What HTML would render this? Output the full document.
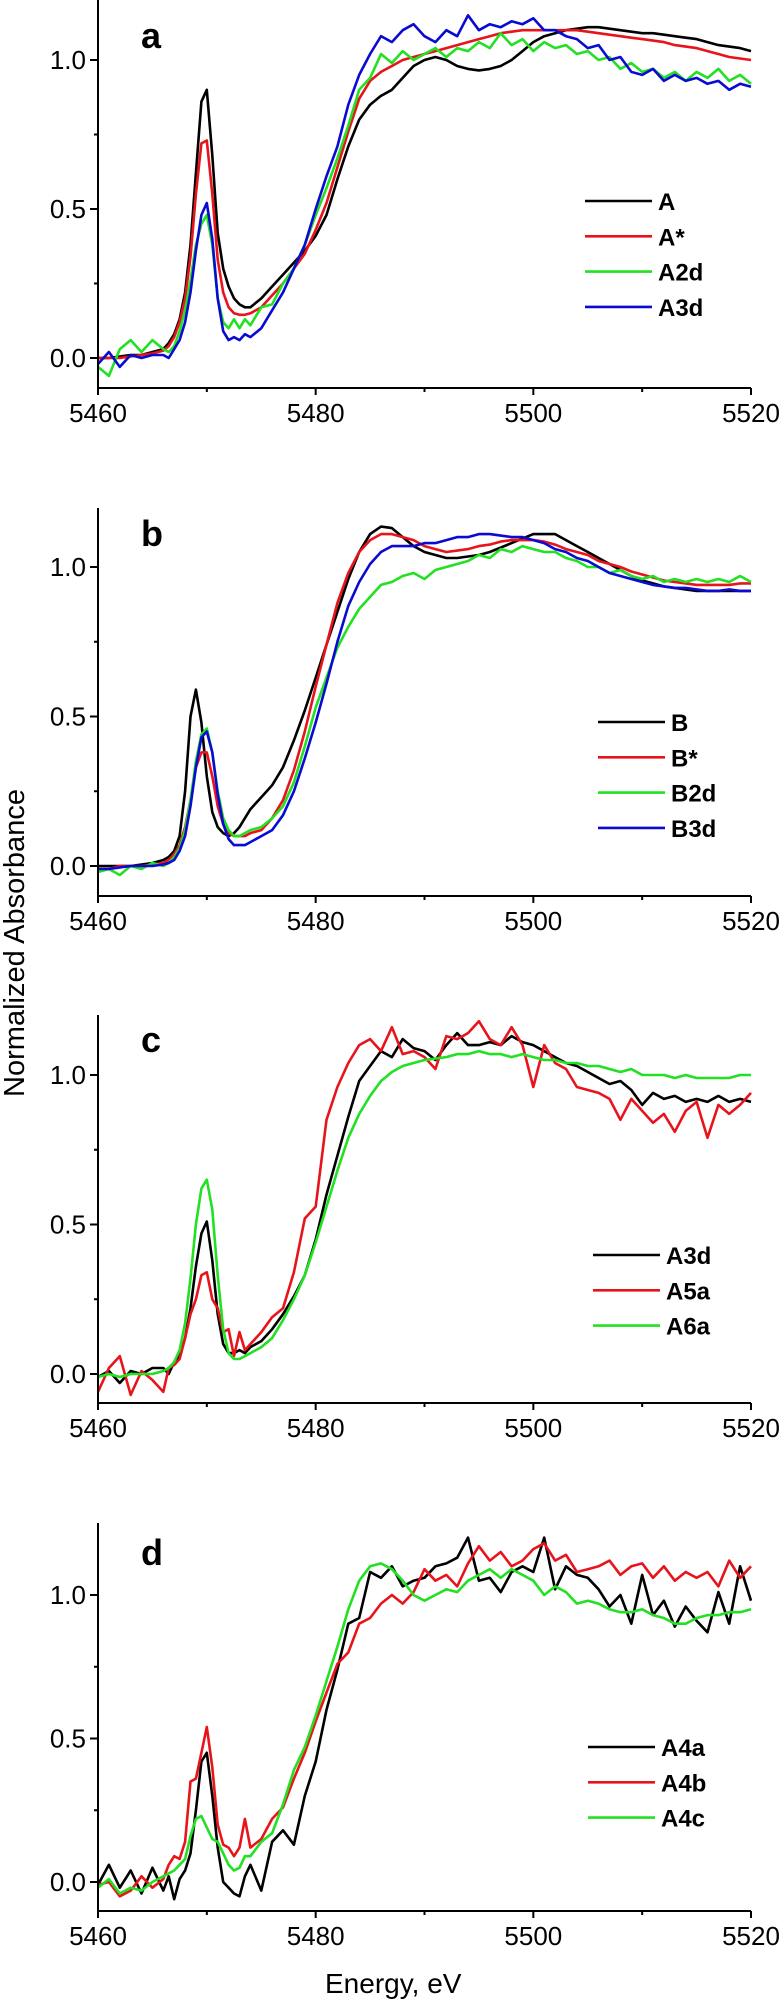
<!DOCTYPE html>
<html><head><meta charset="utf-8"><style>
html,body{margin:0;padding:0;background:#fff;}
svg{display:block;font-family:"Liberation Sans",Arial,sans-serif;}
</style></head>
<body>
<svg id="fig" width="781" height="2002" viewBox="0 0 781 2002" xmlns="http://www.w3.org/2000/svg">
<text x="0" y="0" font-size="29" transform="translate(24,943) rotate(-90)" text-anchor="middle">Normalized Absorbance</text>
<text x="325" y="1993" font-size="28">Energy, eV</text>
</svg>
<script>
const energies = [5460,5461,5462,5463,5464,5465,5466,5466.5,5467,5467.5,5468,5468.5,5469,5469.5,5470,5470.5,5471,5471.5,5472,5472.5,5473,5473.5,5474,
5475,5476,5477,5478,5479,5480,5481,5482,5483,5484,5485,5486,5487,5488,5489,5490,5491,5492,5493,5494,5495,5496,5497,5498,5499,5500,5501,5502,5503,5504,5505,5506,5507,5508,5509,5510,5511,5512,5513,5514,5515,5516,5517,5518,5519,5520];
const xTicksMajor = [5460,5480,5500,5520];
const xTicksMinor = [5470,5490,5510];
const yTicksMajor = [0,0.5,1.0];
const yTickLabels = ["0.0","0.5","1.0"];
const yTicksMinor = [0.25,0.75];

const seriesA = [0,0,0.005,0.01,0.01,0.02,0.03, 0.05,0.08,0.13,0.22,0.38,0.62,0.86,0.90,0.68,0.42,0.30,0.24,0.20,0.18,0.17,0.17,
0.2,0.24,0.28,0.32,0.36,0.41,0.48,0.6,0.71,0.8,0.85,0.88,0.9,0.94,0.98,1.0,1.01,1.0,0.98,0.97,0.965,0.97,0.98,1.0,1.03,1.06,1.08,1.09,1.1,1.105,1.11,1.11,1.105,1.1,1.095,1.09,1.09,1.085,1.08,1.075,1.07,1.06,1.05,1.045,1.04,1.03];
const seriesAstar = [0,0,0,0.005,0.01,0.015,0.025, 0.04,0.07,0.12,0.2,0.34,0.55,0.72,0.73,0.55,0.33,0.22,0.17,0.15,0.145,0.145,0.15,
0.17,0.21,0.25,0.3,0.35,0.43,0.52,0.64,0.76,0.87,0.93,0.96,0.98,1.0,1.01,1.02,1.03,1.04,1.05,1.06,1.07,1.08,1.09,1.095,1.1,1.1,1.1,1.1,1.1,1.1,1.095,1.09,1.085,1.08,1.075,1.07,1.065,1.06,1.05,1.045,1.04,1.03,1.02,1.01,1.005,1.0];
const seriesA2d = [-0.03,-0.06,0.03,0.06,0.02,0.06,0.03, 0.02,0.04,0.09,0.16,0.26,0.38,0.45,0.48,0.38,0.2,0.12,0.1,0.13,0.1,0.13,0.11,
0.17,0.18,0.25,0.3,0.38,0.48,0.57,0.67,0.78,0.9,0.94,1.02,0.99,1.03,1.0,1.02,1.04,1.01,1.04,1.03,1.06,1.04,1.09,1.05,1.07,1.03,1.06,1.04,1.05,1.02,1.03,1.0,1.01,0.97,0.99,0.96,0.97,0.94,0.96,0.93,0.96,0.94,0.97,0.93,0.95,0.92];
const seriesA3d = [-0.02,0.02,-0.03,0.01,0.0,0.01,0.01, 0.0,0.03,0.06,0.12,0.22,0.36,0.48,0.52,0.4,0.2,0.09,0.06,0.07,0.06,0.08,0.07,
0.1,0.16,0.22,0.3,0.38,0.5,0.61,0.71,0.85,0.95,1.02,1.08,1.06,1.1,1.12,1.08,1.06,1.1,1.08,1.15,1.1,1.12,1.11,1.13,1.12,1.14,1.1,1.1,1.08,1.07,1.04,1.05,1.0,1.01,0.96,0.95,0.97,0.93,0.95,0.93,0.94,0.92,0.93,0.9,0.92,0.91];

const seriesB = [0,0,0,0,0.005,0.01,0.02, 0.03,0.05,0.1,0.25,0.5,0.59,0.48,0.3,0.18,0.13,0.11,0.1,0.11,0.13,0.16,0.19,
0.23,0.27,0.33,0.42,0.52,0.63,0.74,0.85,0.96,1.05,1.11,1.135,1.13,1.1,1.07,1.05,1.04,1.03,1.03,1.035,1.04,1.05,1.065,1.08,1.095,1.11,1.11,1.11,1.09,1.07,1.05,1.03,1.01,0.99,0.97,0.955,0.945,0.935,0.93,0.925,0.92,0.92,0.92,0.92,0.92,0.92];
const seriesBstar = [-0.01,-0.01,0,0,0,0.005,0.01, 0.02,0.04,0.07,0.13,0.22,0.33,0.38,0.38,0.3,0.2,0.14,0.11,0.1,0.1,0.1,0.11,
0.12,0.16,0.22,0.32,0.45,0.6,0.74,0.88,0.98,1.05,1.09,1.11,1.11,1.1,1.09,1.07,1.06,1.05,1.055,1.06,1.07,1.075,1.085,1.09,1.09,1.09,1.085,1.075,1.06,1.05,1.04,1.02,1.01,1.0,0.985,0.975,0.965,0.955,0.95,0.945,0.94,0.94,0.94,0.94,0.945,0.945];
const seriesB2d = [-0.02,-0.01,-0.03,0.0,-0.01,0.01,0.0, 0.01,0.03,0.06,0.12,0.22,0.35,0.44,0.46,0.38,0.25,0.16,0.12,0.1,0.1,0.11,0.12,
0.13,0.16,0.2,0.28,0.4,0.53,0.63,0.73,0.8,0.86,0.9,0.94,0.95,0.97,0.98,0.96,0.99,1.0,1.01,1.02,1.04,1.03,1.06,1.05,1.07,1.06,1.05,1.05,1.03,1.02,1.0,1.0,0.98,0.99,0.97,0.96,0.97,0.95,0.96,0.95,0.96,0.95,0.96,0.95,0.97,0.95];
const seriesB3d = [-0.01,-0.01,-0.005,0,0,0,0.005, 0.01,0.02,0.05,0.1,0.2,0.33,0.43,0.45,0.38,0.24,0.14,0.09,0.07,0.07,0.07,0.08,
0.1,0.12,0.17,0.25,0.36,0.48,0.61,0.75,0.87,0.95,1.01,1.05,1.07,1.07,1.07,1.08,1.08,1.09,1.1,1.1,1.11,1.11,1.105,1.1,1.1,1.09,1.08,1.06,1.05,1.03,1.02,1.0,0.98,0.97,0.96,0.95,0.94,0.935,0.93,0.93,0.925,0.92,0.92,0.925,0.92,0.92];

const seriesC3d = [-0.01,0.01,-0.03,0.01,0.0,0.02,0.02, 0.0,0.04,0.06,0.12,0.22,0.36,0.47,0.51,0.38,0.2,0.1,0.07,0.07,0.08,0.07,0.09,
0.11,0.15,0.2,0.26,0.33,0.45,0.6,0.73,0.86,0.98,1.03,1.08,1.06,1.12,1.09,1.08,1.05,1.1,1.14,1.1,1.1,1.11,1.1,1.13,1.11,1.1,1.08,1.06,1.04,1.03,1.01,0.99,0.97,0.98,0.95,0.9,0.94,0.92,0.93,0.91,0.92,0.91,0.93,0.91,0.92,0.91];
const seriesC5a = [-0.06,0.02,0.06,-0.07,0.01,-0.02,-0.06, 0.02,0.03,0.05,0.12,0.2,0.25,0.33,0.34,0.25,0.22,0.14,0.15,0.06,0.14,0.08,0.1,
0.14,0.19,0.22,0.34,0.52,0.56,0.85,0.96,1.04,1.1,1.12,1.08,1.16,1.07,1.08,1.06,1.02,1.13,1.12,1.14,1.18,1.12,1.1,1.16,1.1,0.96,1.1,1.04,1.02,0.96,0.95,0.94,0.92,0.85,0.92,0.88,0.84,0.87,0.81,0.88,0.91,0.79,0.9,0.87,0.9,0.94];
const seriesC6a = [-0.01,0,-0.01,0,0,0,0.01, 0.02,0.04,0.08,0.17,0.32,0.5,0.62,0.65,0.55,0.33,0.15,0.07,0.05,0.05,0.06,0.07,
0.09,0.12,0.18,0.25,0.33,0.44,0.56,0.68,0.79,0.87,0.93,0.98,1.01,1.03,1.04,1.05,1.055,1.06,1.07,1.07,1.08,1.07,1.07,1.06,1.07,1.06,1.05,1.05,1.04,1.04,1.03,1.03,1.02,1.01,1.02,1.0,1.0,1.0,0.99,1.0,0.99,0.99,0.99,0.99,1.0,1.0];

const seriesD4a = [-0.01,0.06,-0.02,0.04,-0.04,0.05,-0.03, 0.02,-0.06,0.01,0.04,0.1,0.25,0.42,0.45,0.3,0.12,0.0,-0.02,-0.04,-0.05,0.02,0.06,
-0.03,0.14,0.18,0.13,0.3,0.42,0.6,0.74,0.9,0.92,1.08,1.06,1.1,1.03,1.05,1.06,1.1,1.11,1.13,1.2,1.05,1.06,1.01,1.08,1.1,1.08,1.2,1.02,1.1,1.07,1.06,1.02,0.96,1.0,0.9,1.07,0.93,0.98,0.89,0.96,0.91,0.87,1.01,0.9,1.1,0.98];
const seriesD4b = [-0.01,0.0,-0.05,-0.03,0.02,-0.02,0.01, 0.06,0.09,0.08,0.14,0.35,0.36,0.45,0.54,0.4,0.2,0.13,0.12,0.09,0.12,0.22,0.12,
0.15,0.22,0.26,0.36,0.45,0.56,0.66,0.76,0.8,0.9,0.92,0.97,1.0,0.97,1.01,1.09,1.05,1.07,1.03,1.11,1.17,1.12,1.15,1.1,1.12,1.16,1.18,1.12,1.14,1.08,1.09,1.1,1.12,1.07,1.1,1.11,1.06,1.1,1.05,1.08,1.06,1.08,1.03,1.12,1.06,1.10];
const seriesD4c = [-0.02,0.01,-0.04,-0.02,-0.03,0.0,0.02, 0.03,0.04,0.06,0.08,0.16,0.22,0.23,0.19,0.15,0.14,0.1,0.06,0.04,0.05,0.09,0.09,
0.14,0.17,0.27,0.39,0.47,0.58,0.7,0.82,0.95,1.05,1.1,1.11,1.09,1.05,1.0,0.98,1.0,1.02,1.01,1.05,1.07,1.09,1.06,1.09,1.07,1.05,1.0,1.03,1.01,0.97,0.98,0.97,0.95,0.94,0.94,0.95,0.93,0.92,0.9,0.9,0.92,0.93,0.93,0.94,0.94,0.95];

const BLACK="#000000", RED="#e8141c", GREEN="#22e022", BLUE="#0a0ad2";
const panels = [
 {id:"a", top:0, zero:358, scale:298, axis:388, letterY:48, legendY:201, legendX:585, names:["A","A*","A2d","A3d"], data:[seriesA,seriesAstar,seriesA2d,seriesA3d], colors:[BLACK,RED,GREEN,BLUE]},
 {id:"b", top:508, zero:866, scale:299, axis:896, letterY:546, legendY:722, legendX:598, names:["B","B*","B2d","B3d"], data:[seriesB,seriesBstar,seriesB2d,seriesB3d], colors:[BLACK,RED,GREEN,BLUE]},
 {id:"c", top:1015, zero:1374, scale:299, axis:1403, letterY:1052, legendY:1255, legendX:593, names:["A3d","A5a","A6a"], data:[seriesC3d,seriesC5a,seriesC6a], colors:[BLACK,RED,GREEN]},
 {id:"d", top:1523, zero:1882, scale:287, axis:1911, letterY:1565, legendY:1747, legendX:588, names:["A4a","A4b","A4c"], data:[seriesD4a,seriesD4b,seriesD4c], colors:[BLACK,RED,GREEN]}
];
const NS="http://www.w3.org/2000/svg";
const svg=document.getElementById("fig");
const X0=98, X1=751;
function xs(e){return X0+(e-5460)/60*(X1-X0);}
function mk(tag,attrs,parent){const el=document.createElementNS(NS,tag);for(const k in attrs)el.setAttribute(k,attrs[k]);(parent||svg).appendChild(el);return el;}

panels.forEach(p=>{
  const ys=v=>p.zero-v*p.scale;
  const g=mk("g",{});
  
  
  // series
  p.data.forEach((vals,si)=>{
    let d="";
    vals.forEach((v,i)=>{d+=(i?"L":"M")+xs(energies[i]).toFixed(1)+","+ys(v).toFixed(1);});
    const path=mk("path",{d:d,fill:"none",stroke:p.colors[si],"stroke-width":"2.6","stroke-linejoin":"round"},g);
    
    
  });
  // axes
  const ax=mk("path",{d:`M${X0},${p.top}V${p.axis}H${X1}`,fill:"none",stroke:"#000","stroke-width":"2"},g);
  
  
  xTicksMajor.forEach(t=>{
    const l=mk("line",{x1:xs(t),x2:xs(t),y1:p.axis,y2:p.axis+7,stroke:"#000","stroke-width":"2"},g);
    
    
    const tx=mk("text",{x:xs(t),y:p.axis+34,"font-size":"26","text-anchor":"middle"},g);
    tx.textContent=t;
    
    
  });
  xTicksMinor.forEach(t=>{
    const l=mk("line",{x1:xs(t),x2:xs(t),y1:p.axis,y2:p.axis+4,stroke:"#000","stroke-width":"2"},g);
    
    
  });
  yTicksMajor.forEach((t,i)=>{
    const l=mk("line",{x1:X0-8,x2:X0,y1:ys(t),y2:ys(t),stroke:"#000","stroke-width":"2"},g);
    
    
    const tx=mk("text",{x:86,y:ys(t)+9,"font-size":"26","text-anchor":"end"},g);
    tx.textContent=yTickLabels[i];
    
    
  });
  yTicksMinor.forEach(t=>{
    const l=mk("line",{x1:X0-4,x2:X0,y1:ys(t),y2:ys(t),stroke:"#000","stroke-width":"2"},g);
    
    
  });
  const lt=mk("text",{x:141,y:p.letterY,"font-size":"36","font-weight":"bold"},g);
  lt.textContent=p.id;
  
  
  p.names.forEach((n,i)=>{
    const y=p.legendY+i*35.3;
    const ll=mk("line",{x1:p.legendX,x2:p.legendX+67,y1:y,y2:y,stroke:p.colors[i],"stroke-width":"2.6"},g);
    
    
    const lx=mk("text",{x:p.legendX+73,y:y+9,"font-size":"24","font-weight":"bold"},g);
    lx.textContent=n;
    
    
  });
});
</script>
</body></html>
